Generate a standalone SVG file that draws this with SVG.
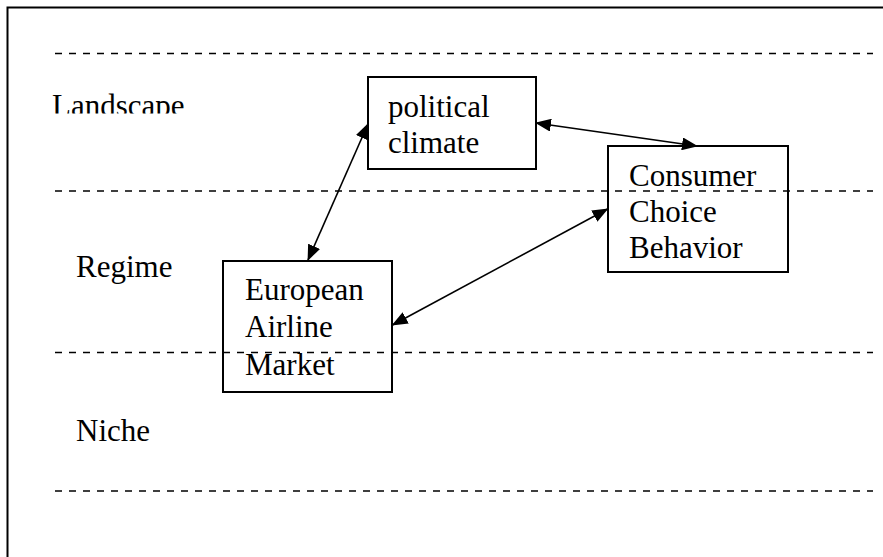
<svg xmlns="http://www.w3.org/2000/svg" width="883" height="557" viewBox="0 0 883 557">
  <style>
    .frame { fill: none; stroke: #000; stroke-width: 2; }
    .dash { fill: none; stroke: #000; stroke-width: 1.5; stroke-dasharray: 7 7; }
    .box { fill: none; stroke: #000; stroke-width: 2; }
    .conn { fill: none; stroke: #000; stroke-width: 1.6; marker-start: url(#ah); marker-end: url(#ah); }
    text { font-family: "Liberation Serif", "Times New Roman", serif; font-size: 31px; fill: #000; }
  </style>
  <defs>
    <marker id="ah" viewBox="0 0 16 13" markerWidth="16" markerHeight="13" markerUnits="userSpaceOnUse" refX="15" refY="6.5" orient="auto-start-reverse">
      <path d="M0,0 L16,6.5 L0,13 z" fill="#000"/>
    </marker>
    <clipPath id="clipLand">
      <rect x="0" y="0" width="300" height="113.5"/>
    </clipPath>
  </defs>
  <rect width="883" height="557" fill="#fff"/>
  <path class="frame" d="M7.5,557 V7.5 H883"/>

  <g id="layers">
    <line class="dash" x1="55" y1="53.5" x2="873" y2="53.5"/>
    <line class="dash" x1="55" y1="191" x2="873" y2="191"/>
    <line class="dash" x1="55" y1="352.5" x2="873" y2="352.5"/>
    <line class="dash" x1="55" y1="491" x2="873" y2="491"/>
  </g>

  <g id="label-landscape" clip-path="url(#clipLand)">
    <text x="52" y="116">Landscape</text>
  </g>
  <g id="label-regime"><text x="76" y="277">Regime</text></g>
  <g id="label-niche"><text x="76" y="441">Niche</text></g>

  <g id="node-political">
    <rect class="box" x="368" y="77" width="168" height="92"/>
    <text x="388" y="117">political</text>
    <text x="388" y="153">climate</text>
  </g>

  <g id="node-consumer">
    <rect class="box" x="608" y="146" width="180" height="126"/>
    <text x="629" y="186">Consumer</text>
    <text x="629" y="222">Choice</text>
    <text x="629" y="258">Behavior</text>
  </g>

  <g id="node-european">
    <rect class="box" x="223" y="261" width="169" height="131"/>
    <text x="245" y="300">European</text>
    <text x="245" y="337">Airline</text>
    <text x="245" y="375">Market</text>
  </g>

  <g id="connectors">
    <line class="conn" x1="368" y1="124" x2="308" y2="260"/>
    <line class="conn" x1="536" y1="123" x2="697" y2="146"/>
    <line class="conn" x1="607.5" y1="209" x2="392.5" y2="325"/>
  </g>
</svg>
